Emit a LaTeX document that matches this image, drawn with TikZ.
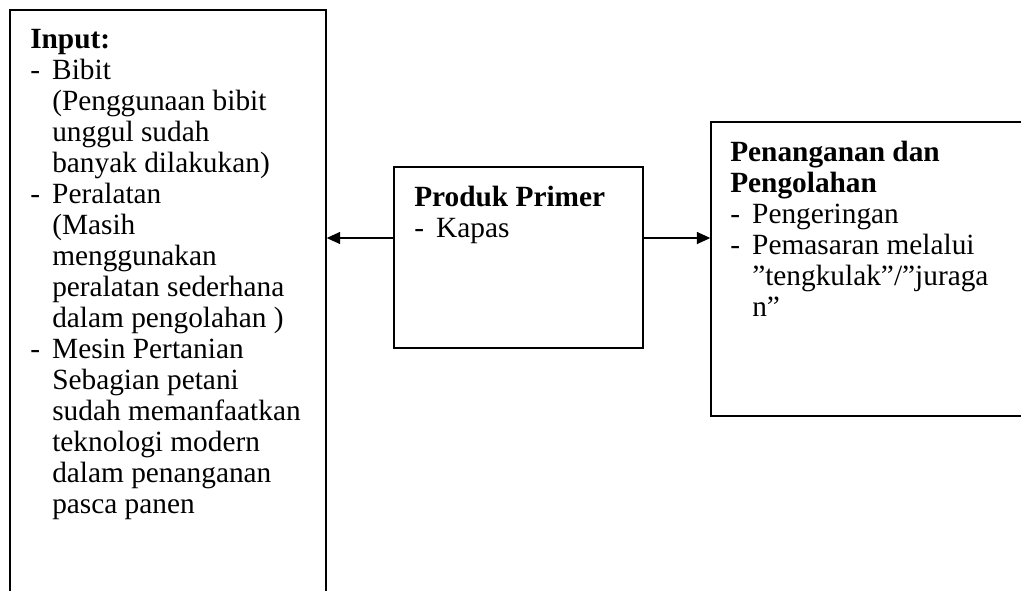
\documentclass[tikz,border=0pt]{standalone}
\usepackage{fontspec}
\setmainfont{Liberation Serif}
\usepackage{tikz}
\usetikzlibrary{arrows.meta, calc}

\newcommand{\li}[1]{\makebox[16.5pt][l]{-}#1}
\newcommand{\lc}[1]{\hspace*{16.5pt}#1}

\begin{document}
\begin{tikzpicture}[x=0.75pt, y=-0.75pt,
  box/.style={draw, line width=1.1pt, rectangle, inner sep=0pt},
  txt/.style={anchor=north west, inner sep=0pt, align=left,
    font=\fontsize{22pt}{23.25pt}\selectfont},
  arr/.style={line width=0.8pt, -{Triangle[length=10pt, width=9pt]}}]
\clip (0,0) rectangle (1021,590);
\node[box, minimum width=237pt, minimum height=457.5pt] (input) at (168,315) {}; %Input
\node[box, minimum width=186.75pt, minimum height=135.75pt] (prim) at (518.5,257.5) {}; %Produk Primer
\node[box, minimum width=239.25pt, minimum height=220.5pt] (olah) at (870.5,269) {}; %Penanganan
\coordinate (lvl) at (0,238);
\node[txt] (intxt) at (30,29) {\textbf{Input:}\\ \li{Bibit}\\ \lc{(Penggunaan bibit}\\ \lc{unggul sudah}\\ \lc{banyak dilakukan)}\\
  \li{Peralatan}\\ \lc{(Masih}\\ \lc{menggunakan}\\ \lc{peralatan sederhana}\\ \lc{dalam pengolahan )}\\
  \li{Mesin Pertanian}\\ \lc{Sebagian petani}\\ \lc{sudah memanfaatkan}\\ \lc{teknologi modern}\\ \lc{dalam penanganan}\\ \lc{pasca panen}};
\node[txt] (primtxt) at (414,186) {\textbf{Produk Primer}\\ \li{Kapas}};
\node[txt] (olahtxt) at (730,141) {\textbf{Penanganan dan}\\ \textbf{Pengolahan}\\ \li{Pengeringan}\\ \li{Pemasaran melalui}\\ \lc{”tengkulak”/”juraga}\\ \lc{n”}};
\draw[arr] (prim.west |- lvl) -- (input.east |- lvl);
\draw[arr] (prim.east |- lvl) -- (olah.west |- lvl);
\end{tikzpicture}
\end{document}
